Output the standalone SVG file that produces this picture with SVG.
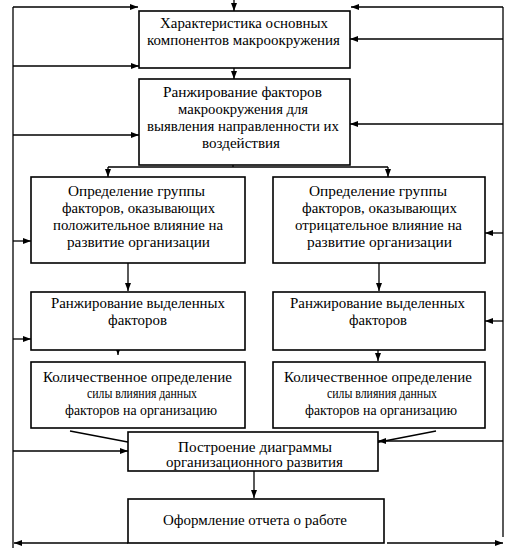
<svg xmlns="http://www.w3.org/2000/svg" width="516" height="558" viewBox="0 0 516 558">
<style>
.box{fill:#fff;stroke:#000;stroke-width:1.6}
.t{font-size:14px;fill:#000;text-anchor:start}
.c{fill:none;stroke:#000;stroke-width:1.3}
</style>
<defs>
<marker id="ah" viewBox="0 0 8 6" refX="8" refY="3" markerWidth="8" markerHeight="6" markerUnits="userSpaceOnUse" orient="auto">
<path d="M0,0 L8,3 L0,6 Z" fill="#000"/>
</marker>
</defs>
<rect width="516" height="558" fill="#fff"/>
<g id="connectors">
<path class="c" d="M13,7 V548"/>
<path class="c" d="M503,7 V537"/>
<path class="c" d="M234,0 V11" marker-end="url(#ah)"/>
<path class="c" d="M13,7 H138" marker-end="url(#ah)"/>
<path class="c" d="M13,66 H139" marker-end="url(#ah)"/>
<path class="c" d="M13,135 H139" marker-end="url(#ah)"/>
<path class="c" d="M13,241 H31" marker-end="url(#ah)"/>
<path class="c" d="M13,339 H31" marker-end="url(#ah)"/>
<path class="c" d="M13,451 H128" marker-end="url(#ah)"/>
<path class="c" d="M128,543 H14" marker-end="url(#ah)"/>
<path class="c" d="M503,7 H351" marker-end="url(#ah)"/>
<path class="c" d="M503,39 H350" marker-end="url(#ah)"/>
<path class="c" d="M503,124 H350" marker-end="url(#ah)"/>
<path class="c" d="M503,233 H485" marker-end="url(#ah)"/>
<path class="c" d="M503,321 H485" marker-end="url(#ah)"/>
<path class="c" d="M503,441 H378" marker-end="url(#ah)"/>
<path class="c" d="M387,543 H503" marker-end="url(#ah)"/>
<path class="c" d="M234,68 V79" marker-end="url(#ah)"/>
<path class="c" d="M233,165 V167 M108,167 H388"/>
<path class="c" d="M108,167 V177" marker-end="url(#ah)"/>
<path class="c" d="M388,167 V177" marker-end="url(#ah)"/>
<path class="c" d="M128,263 V291" marker-end="url(#ah)"/>
<path class="c" d="M379,263 V291" marker-end="url(#ah)"/>
<path class="c" d="M118,337 V355" marker-end="url(#ah)"/>
<path class="c" d="M378,350 V361" marker-end="url(#ah)"/>
<path class="c" d="M70,431 L175,451" marker-end="url(#ah)"/>
<path class="c" d="M436,431 L338,450" marker-end="url(#ah)"/>
<path class="c" d="M254,471 V498" marker-end="url(#ah)"/>
</g>
<g font-family="Liberation Serif, DejaVu Serif, serif">
<g id="n1">
<rect class="box" x="139" y="11" width="211" height="57"/>
<text class="t" x="160" y="28" textLength="168" lengthAdjust="spacingAndGlyphs">Характеристика основных</text>
<text class="t" x="147" y="45" textLength="193" lengthAdjust="spacingAndGlyphs">компонентов макроокружения</text>
</g>
<g id="n2">
<rect class="box" x="139" y="79" width="211" height="86" stroke-width="2"/>
<text class="t" x="163" y="97" textLength="159" lengthAdjust="spacingAndGlyphs">Ранжирование факторов</text>
<text class="t" x="178" y="114" textLength="130" lengthAdjust="spacingAndGlyphs">макроокружения для</text>
<text class="t" x="147" y="131" textLength="192" lengthAdjust="spacingAndGlyphs">выявления направленности их</text>
<text class="t" x="202" y="148" textLength="78" lengthAdjust="spacingAndGlyphs">воздействия</text>
</g>
<g id="n3">
<rect class="box" x="31" y="177" width="214" height="86"/>
<text class="t" x="68" y="196" textLength="137" lengthAdjust="spacingAndGlyphs">Определение группы</text>
<text class="t" x="62" y="213" textLength="153" lengthAdjust="spacingAndGlyphs">факторов, оказывающих</text>
<text class="t" x="53" y="230" textLength="170" lengthAdjust="spacingAndGlyphs">положительное влияние на</text>
<text class="t" x="67" y="247" textLength="143" lengthAdjust="spacingAndGlyphs">развитие организации</text>
</g>
<g id="n4">
<rect class="box" x="273" y="177" width="212" height="86"/>
<text class="t" x="309" y="196" textLength="138" lengthAdjust="spacingAndGlyphs">Определение группы</text>
<text class="t" x="302" y="213" textLength="155" lengthAdjust="spacingAndGlyphs">факторов, оказывающих</text>
<text class="t" x="295" y="230" textLength="167" lengthAdjust="spacingAndGlyphs">отрицательное влияние на</text>
<text class="t" x="307" y="247" textLength="145" lengthAdjust="spacingAndGlyphs">развитие организации</text>
</g>
<g id="n5">
<rect class="box" x="31" y="292" width="214" height="58"/>
<text class="t" x="51" y="308" textLength="174" lengthAdjust="spacingAndGlyphs">Ранжирование выделенных</text>
<text class="t" x="108" y="325" textLength="59" lengthAdjust="spacingAndGlyphs">факторов</text>
</g>
<g id="n6">
<rect class="box" x="273" y="292" width="212" height="58"/>
<text class="t" x="290" y="308" textLength="175" lengthAdjust="spacingAndGlyphs">Ранжирование выделенных</text>
<text class="t" x="349" y="325" textLength="58" lengthAdjust="spacingAndGlyphs">факторов</text>
</g>
<g id="n7">
<rect class="box" x="31" y="362" width="214" height="66"/>
<text class="t" x="43" y="382" textLength="189" lengthAdjust="spacingAndGlyphs">Количественное определение</text>
<text class="t" x="87" y="398" textLength="110" lengthAdjust="spacingAndGlyphs">силы влияния данных</text>
<text class="t" x="65" y="415" textLength="152" lengthAdjust="spacingAndGlyphs">факторов на организацию</text>
</g>
<g id="n8">
<rect class="box" x="273" y="362" width="212" height="66"/>
<text class="t" x="284" y="382" textLength="188" lengthAdjust="spacingAndGlyphs">Количественное определение</text>
<text class="t" x="327" y="398" textLength="110" lengthAdjust="spacingAndGlyphs">силы влияния данных</text>
<text class="t" x="305" y="415" textLength="152" lengthAdjust="spacingAndGlyphs">факторов на организацию</text>
</g>
<g id="n9">
<rect class="box" x="128" y="432" width="250" height="39"/>
<text class="t" x="178" y="452" textLength="154" lengthAdjust="spacingAndGlyphs">Построение диаграммы</text>
<text class="t" x="166" y="467" textLength="177" lengthAdjust="spacingAndGlyphs">организационного развития</text>
</g>
<g id="n10">
<rect class="box" x="128" y="499" width="256" height="44"/>
<text class="t" x="163" y="525" textLength="184" lengthAdjust="spacingAndGlyphs">Оформление отчета о работе</text>
</g>
</g>
</svg>
